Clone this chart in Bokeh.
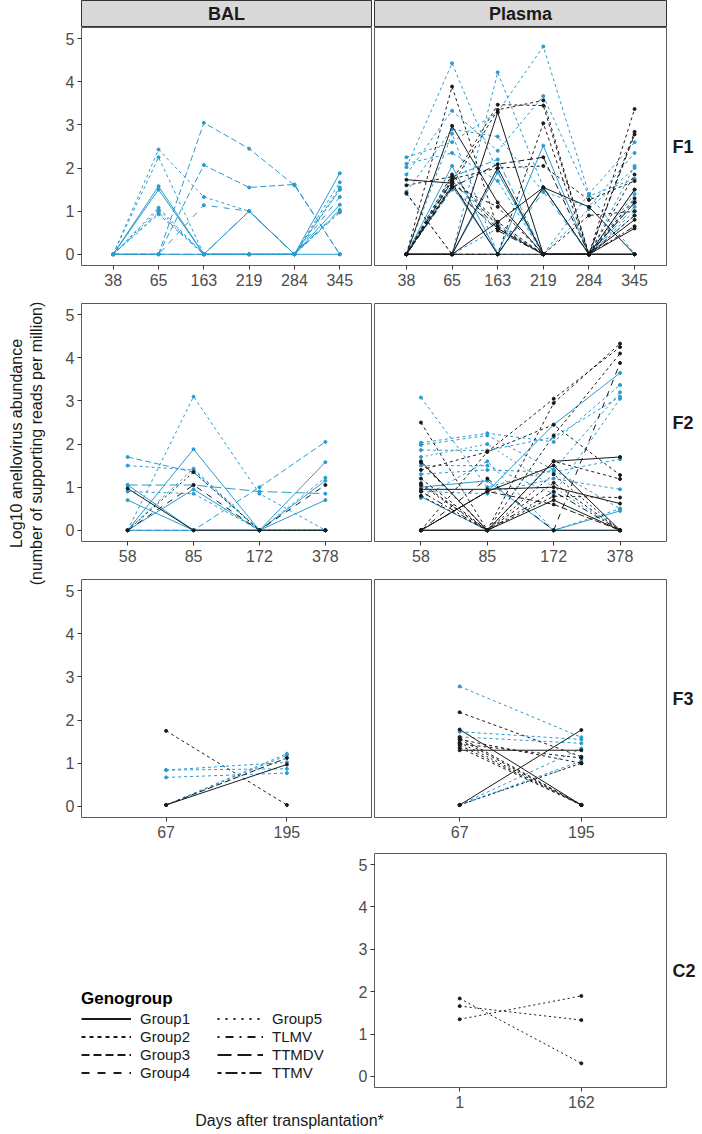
from bokeh.plotting import figure
from bokeh.layouts import row, column
from bokeh.models import Range1d, FactorRange, FixedTicker, Legend, LegendItem
from bokeh.embed import file_html
from bokeh.resources import INLINE
from bokeh.core.properties import value

# ---------------- data ----------------
GENOGROUPS = ["Group1", "Group2", "Group3", "Group4", "Group5", "TLMV", "TTMDV", "TTMV"]
SAMPLE_TYPES = ["BAL", "Plasma"]
ROW_LABELS = ["F1", "F2", "F3", "C2"]
Y_TICKS = [0, 1, 2, 3, 4, 5]

F1_DAYS = ["38", "65", "163", "219", "284", "345"]
F2_DAYS = ["58", "85", "172", "378"]
F3_DAYS = ["67", "195"]
C2_DAYS = ["1", "162"]

# F1 - BAL
F1_BAL_GENO = ["Group2", "Group2", "Group3", "Group3", "TTMDV", "Group4", "Group1", "Group1",
               "Group2", "TLMV", "Group2", "Group1", "Group5"]
F1_BAL_COL = ["blue"] * 13
F1_BAL_VAL = [
    [0, 2.43, 1.33, 1.00, 0, 1.50],
    [0, 2.25, 0, 0, 0, 1.67],
    [0, 0, 3.05, 2.45, 1.60, 0],
    [0, 0, 2.07, 1.55, 1.62, 0],
    [0, 0, 0, 1.00, 0, 1.03],
    [0, 0, 1.14, 1.00, 0, 1.33],
    [0, 1.50, 0, 1.00, 0, 1.88],
    [0, 1.58, 0, 0, 0, 1.15],
    [0, 1.08, 0, 0, 0, 1.55],
    [0, 0.97, 0, 0, 0, 0.97],
    [0, 0.93, 0, 0, 0, 1.00],
    [0, 0, 0, 0, 0, 0],
    [0, 1.03, 0, 0, 0, 1.50],
]

# F1 - Plasma
F1_PLA_GENO = ["Group2", "Group2", "Group2", "Group2", "Group1", "Group1", "Group2", "Group2",
               "Group2", "Group3", "Group2", "Group1", "TLMV", "Group4", "Group2",
               "Group2", "Group1", "Group1", "Group2", "Group2", "Group1", "Group2", "Group2",
               "Group3", "Group2", "Group1", "Group2", "Group1", "TLMV", "Group2", "Group1", "Group4"]
F1_PLA_COL = ["blue"] * 15 + ["black"] * 17
F1_PLA_VAL = [
    [2.02, 4.43, 1.90, 0, 0, 1.40],
    [0, 0, 4.22, 1.55, 0, 1.25],
    [2.25, 2.60, 3.30, 4.82, 1.40, 2.60],
    [1.85, 3.33, 2.40, 3.67, 1.35, 1.75],
    [0, 2.05, 0, 2.52, 0, 0],
    [0, 1.60, 0, 1.55, 0, 0],
    [1.45, 2.90, 2.73, 1.45, 1.10, 2.35],
    [2.10, 2.35, 1.70, 0, 0, 2.05],
    [1.40, 0, 0.60, 0, 1.05, 2.00],
    [0, 1.80, 2.20, 0, 0, 1.50],
    [0, 2.80, 0, 0, 0, 1.00],
    [0, 0, 1.90, 0, 0, 0],
    [0, 1.50, 0.60, 0, 0, 1.10],
    [0, 0, 0, 1.45, 0, 0.90],
    [0, 1.70, 0.70, 0, 1.40, 0],
    [0, 3.89, 0.60, 0, 0, 1.20],
    [0, 2.98, 1.20, 0, 0, 0.60],
    [0, 0, 3.29, 0, 0, 0],
    [0, 1.70, 3.47, 3.45, 0, 1.85],
    [0, 1.60, 3.35, 3.57, 0, 1.30],
    [1.73, 1.65, 0, 1.55, 1.10, 0],
    [1.60, 1.80, 0.75, 0, 0, 2.84],
    [1.42, 0, 0, 3.04, 0, 3.37],
    [0, 1.55, 2.09, 2.25, 0, 2.78],
    [0, 1.75, 2.00, 2.05, 1.26, 1.70],
    [0, 0, 2.00, 0, 0, 1.50],
    [0, 1.85, 0.65, 0, 0.90, 1.00],
    [0, 0, 0.75, 1.55, 0, 0.80],
    [0, 1.55, 0.55, 0, 0, 0.65],
    [0, 1.60, 1.10, 0, 0, 0.90],
    [0, 0, 0, 0, 0, 0],
    [0, 1.70, 0.60, 0, 0, 1.20],
]

# F2 - BAL
F2_BAL_GENO = ["Group2", "Group3", "TTMDV", "Group1", "Group1", "Group1", "Group2", "Group1",
               "Group2", "Group3", "Group2", "Group1", "Group1", "Group5", "Group4"]
F2_BAL_COL = ["blue"] * 12 + ["black"] * 3
F2_BAL_VAL = [
    [0, 3.10, 0.85, 0],
    [1.70, 1.35, 0, 0],
    [1.05, 1.05, 0.90, 0.85],
    [0, 1.88, 0, 1.58],
    [0.70, 0, 0, 0.70],
    [1.05, 0, 0, 1.15],
    [0, 1.43, 0, 1.22],
    [0, 0.95, 0, 0],
    [0.90, 0.85, 0, 0],
    [0, 0, 1.00, 2.05],
    [1.50, 1.40, 0, 0],
    [0, 0, 0, 0],
    [0.97, 0, 0, 0],
    [0, 1.35, 0, 0],
    [0, 1.05, 0, 1.05],
]

# F2 - Plasma
F2_PLA_GENO = ["Group2", "Group1", "Group2", "Group2", "Group2", "Group2", "Group1", "Group2",
               "Group2", "Group1", "Group5", "Group2",
               "Group2", "Group2", "Group2", "Group4", "Group1", "Group1", "Group2", "Group2",
               "Group1", "Group2", "Group1", "Group3", "Group2", "TLMV", "Group1", "Group5"]
F2_PLA_COL = ["blue"] * 12 + ["black"] * 16
F2_PLA_VAL = [
    [3.08, 1.00, 1.40, 0.50],
    [0, 0.90, 2.45, 3.65],
    [2.03, 2.25, 2.05, 3.37],
    [1.98, 2.20, 1.40, 3.20],
    [1.86, 1.85, 2.16, 3.10],
    [1.50, 1.50, 0.85, 3.05],
    [1.00, 1.15, 0, 0.45],
    [1.30, 1.40, 1.35, 1.65],
    [0.90, 0.85, 1.20, 0.95],
    [0.78, 0, 0, 0],
    [1.70, 2.00, 1.00, 0],
    [0.75, 1.60, 0, 0.50],
    [2.50, 0, 2.95, 4.33],
    [0, 1.82, 3.05, 4.25],
    [1.57, 0, 2.20, 4.10],
    [0, 1.20, 0, 3.88],
    [1.60, 0, 1.60, 1.70],
    [0, 0.90, 1.50, 0],
    [1.40, 1.82, 2.45, 1.28],
    [1.09, 0, 1.60, 1.19],
    [0.95, 0.95, 1.00, 0.62],
    [0.80, 0, 0.79, 0.76],
    [0, 0, 0.70, 0],
    [0, 0.90, 0.60, 0],
    [1.20, 0, 1.10, 0],
    [0.90, 0, 0.90, 0],
    [0, 0, 0, 0],
    [1.05, 0, 1.30, 0],
]

# F3 - BAL
F3_BAL_GENO = ["Group2", "Group2", "Group2", "Group2", "Group2", "Group2", "Group1", "Group3"]
F3_BAL_COL = ["black", "blue", "blue", "blue", "blue", "blue", "black", "black"]
F3_BAL_VAL = [
    [1.75, 0.03],
    [0.84, 0.87],
    [0.67, 0.77],
    [0.03, 1.22],
    [0.03, 1.18],
    [0.84, 1.02],
    [0.03, 0.97],
    [0.03, 1.12],
]

# F3 - Plasma
F3_PLA_GENO = ["Group2", "Group2", "Group2", "Group2", "Group2", "Group2",
               "Group2", "Group1", "Group1", "Group1", "Group2", "Group2", "Group5", "Group2",
               "Group2", "Group2", "Group2", "Group5"]
F3_PLA_COL = ["blue"] * 6 + ["black"] * 12
F3_PLA_VAL = [
    [2.78, 1.60],
    [1.73, 1.55],
    [1.61, 1.46],
    [0.03, 1.34],
    [0.03, 1.00],
    [0.03, 1.05],
    [2.18, 1.15],
    [1.78, 0.03],
    [1.30, 1.30],
    [0.03, 1.77],
    [1.60, 0.03],
    [1.55, 0.03],
    [1.48, 0.03],
    [1.42, 0.03],
    [1.36, 0.03],
    [1.55, 1.00],
    [1.45, 1.12],
    [0.03, 1.00],
]

# C2 - Plasma
C2_PLA_GENO = ["Group5", "Group5", "Group5"]
C2_PLA_COL = ["black", "black", "black"]
C2_PLA_VAL = [
    [1.84, 0.31],
    [1.66, 1.33],
    [1.35, 1.90],
]

# ---------------- styles ----------------
COLORS = {"blue": "#2A9BCF", "black": "#1A1A1A"}
DASH = {"Group1": "solid", "Group2": "3 3", "Group3": "6 3", "Group4": "6 6",
        "Group5": "2 3", "TLMV": "2 3 6 3", "TTMDV": "10 4", "TTMV": "3 3 9 3"}
LEGEND_DASH = {"Group1": "solid", "Group2": "4 4", "Group3": "8 4", "Group4": "8 8",
               "Group5": "2 6", "TLMV": "2 6 8 6", "TTMDV": "14 6", "TTMV": "4 4 12 4"}
FONT = "Liberation Sans"
FRAME_COLOR = "#5A5A5A"


def style_axis(ax):
    ax.axis_line_color = None
    ax.major_tick_line_color = "#333333"
    ax.major_tick_out = 4
    ax.major_tick_in = 0
    ax.minor_tick_line_color = None
    ax.major_label_text_font = FONT
    ax.major_label_text_font_size = "16px"
    ax.major_label_text_color = "#4D4D4D"


def panel(days, geno, col, vals, width, height, left, right, bottom, show_y):
    p = figure(width=width, height=height,
               x_range=FactorRange(factors=days, range_padding=0.2, range_padding_units="absolute"),
               y_range=Range1d(-0.26, 5.26),
               min_border_left=left, min_border_right=right, min_border_top=0,
               min_border_bottom=bottom, toolbar_location=None, output_backend="svg",
               y_axis_location="left" if show_y else None)
    p.grid.visible = False
    p.outline_line_color = FRAME_COLOR
    p.outline_line_width = 1
    for c in ["blue", "black"]:
        for g in GENOGROUPS:
            idx = [i for i in range(len(vals)) if geno[i] == g and col[i] == c]
            if not idx:
                continue
            p.multi_line(xs=[days for _ in idx], ys=[vals[i] for i in idx],
                         line_color=COLORS[c], line_dash=DASH[g], line_width=1)
        px = [d for i in range(len(vals)) if col[i] == c for d in days]
        py = [v for i in range(len(vals)) if col[i] == c for v in vals[i]]
        if px:
            p.scatter(x=px, y=py, size=3, color=COLORS[c])
    style_axis(p.xaxis[0])
    p.xaxis.major_label_standoff = 4
    if show_y:
        style_axis(p.yaxis[0])
        p.yaxis.ticker = FixedTicker(ticks=Y_TICKS)
        p.yaxis.major_label_standoff = 3
    return p


def blank(width, height, xr=(0, 1), yr=(0, 1), left=0, right=0, top=0, bottom=0):
    f = figure(width=width, height=height, x_range=Range1d(*xr), y_range=Range1d(*yr),
               min_border_left=left, min_border_right=right, min_border_top=top,
               min_border_bottom=bottom, x_axis_location=None, y_axis_location=None,
               toolbar_location=None, output_backend="svg")
    f.grid.visible = False
    f.outline_line_color = None
    return f


def strip(label, width, left, right):
    s = blank(width, 27, left=left, right=right)
    s.background_fill_color = "#D9D9D9"
    s.outline_line_color = "#333333"
    s.text(x=[0.5], y=[0.5], text=[label], text_align="center", text_baseline="middle",
           text_font=value(FONT), text_font_style="bold", text_font_size="18px",
           text_color="#1A1A1A")
    return s


def row_label(label, height, bottom):
    f = blank(30, height, bottom=bottom)
    f.text(x=[0.07], y=[0.5], text=[label], text_align="left", text_baseline="middle",
           text_font=value(FONT), text_font_style="bold", text_font_size="18px",
           text_color="#1A1A1A")
    return f


LW, RW = 324, 298
rows = [row(strip(SAMPLE_TYPES[0], LW, 33, 1), strip(SAMPLE_TYPES[1], RW, 2, 4))]

specs = [
    (F1_DAYS, (F1_BAL_GENO, F1_BAL_COL, F1_BAL_VAL), (F1_PLA_GENO, F1_PLA_COL, F1_PLA_VAL), 276, 38),
    (F2_DAYS, (F2_BAL_GENO, F2_BAL_COL, F2_BAL_VAL), (F2_PLA_GENO, F2_PLA_COL, F2_PLA_VAL), 276, 38),
    (F3_DAYS, (F3_BAL_GENO, F3_BAL_COL, F3_BAL_VAL), (F3_PLA_GENO, F3_PLA_COL, F3_PLA_VAL), 274, 36),
]
for k, (days, bal, pla, h, b) in enumerate(specs):
    pl = panel(days, *bal, LW, h, 33, 1, b, True)
    pr = panel(days, *pla, RW, h, 2, 4, b, False)
    rows.append(row(pl, pr, row_label(ROW_LABELS[k], h, b)))

# row 4: legend + C2 plasma
H4, B4 = 257, 22
lf = blank(294, H4)
items = []
for g in GENOGROUPS:
    r = lf.line(x=[-2, -1], y=[-2, -2], line_color="#1A1A1A", line_dash=LEGEND_DASH[g],
                line_width=1.8)
    items.append(LegendItem(label=g, renderers=[r]))
common = dict(glyph_height=15, label_height=15, spacing=1, label_standoff=9,
              padding=0, margin=0, border_line_color=None, background_fill_alpha=0,
              label_text_font=FONT, label_text_font_size="15px", label_text_color="#1A1A1A")
leg1 = Legend(items=items[:4], location=(33, 6), title="Genogroup", glyph_width=50,
              title_text_font=FONT, title_text_font_size="17px", title_text_font_style="bold",
              title_text_color="#000000", title_standoff=1, **common)
leg2 = Legend(items=items[4:], location=(169, 6), glyph_width=46, **common)
lf.add_layout(leg1)
lf.add_layout(leg2)
pc = panel(C2_DAYS, C2_PLA_GENO, C2_PLA_COL, C2_PLA_VAL, 328, H4, 32, 4, B4, True)
rows.append(row(lf, pc, row_label(ROW_LABELS[3], H4, B4)))

grid = column(*rows)
total_h = 27 + 276 + 276 + 274 + H4

yt = blank(48, total_h, xr=(0, 48), yr=(0, total_h))
yt.text(x=[16, 36], y=[total_h - 443, total_h - 443],
        text=["Log10 anellovirus abundance", "(number of supporting reads per million)"],
        angle=1.5707963, text_align="center", text_baseline="middle",
        text_font=value(FONT), text_font_size="16px", text_color="#1A1A1A")

xt = blank(700, 20, xr=(0, 700), yr=(0, 20))
xt.text(x=[289], y=[10], text=["Days after transplantation*"], text_align="center",
        text_baseline="middle", text_font=value(FONT), text_font_size="16px",
        text_color="#1A1A1A")

layout = column(row(yt, grid), xt)
open("out.html", "w").write(file_html(layout, INLINE))
